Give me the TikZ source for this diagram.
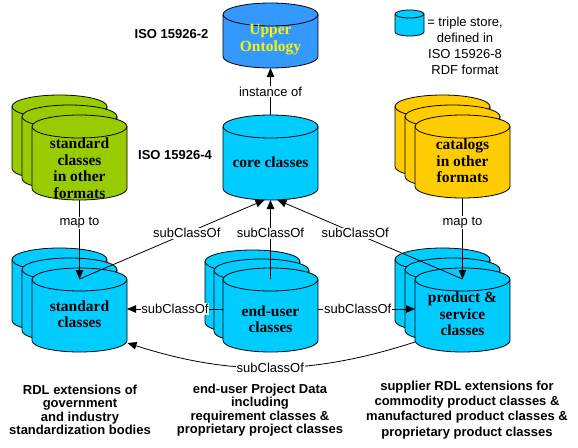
\documentclass[tikz,border=0pt]{standalone}
\usepackage{fontspec}
\setmainfont{Liberation Serif}
\setsansfont{Liberation Sans}
\usetikzlibrary{arrows.meta}

\definecolor{storecyan}{HTML}{00CCFF}
\definecolor{upperblue}{HTML}{3399FF}
\definecolor{fmtgreen}{HTML}{99CC00}
\definecolor{catyellow}{HTML}{FFCC00}

% cylinder: centre x, top y, bottom y, x radius, y radius, fill
\newcommand{\drawdrum}[6]{%
  \draw[drum, fill=#6] (#1-#4,#2+#5) -- (#1-#4,#3-#5)
    arc[start angle=180, end angle=360, x radius=#4pt, y radius=#5pt]
    -- (#1+#4,#2+#5)
    arc[start angle=0, end angle=180, x radius=#4pt, y radius=#5pt] -- cycle;
  \draw[drum] (#1-#4,#2+#5)
    arc[start angle=180, end angle=360, x radius=#4pt, y radius=#5pt];
}

\begin{document}
\begin{tikzpicture}[x=1pt, y=-1pt,
		drum/.style={line width=0.8pt},
		arr/.style={-{Triangle[length=9pt,width=7.5pt]}, line width=0.8pt},
		lbl/.style={fill=white, inner sep=0.8pt, font=\sffamily\fontsize{13}{15}\selectfont},
		isotxt/.style={font=\sffamily\bfseries\fontsize{13}{15}\selectfont},
		cyltxt/.style={align=center, font=\bfseries\fontsize{15.5}{16.5}\selectfont},
		captxt/.style={align=center, font=\sffamily\bfseries\fontsize{13}{13.4}\selectfont}]
	\useasboundingbox (0,0) rectangle (578,447);
	
	% top level
	\drawdrum{270.5}{3}{68}{47.5}{11.5}{upperblue}
	\drawdrum{270.5}{115}{200}{47.5}{11.5}{storecyan}
	\drawdrum{409.5}{10}{36}{14.5}{4}{storecyan}
	
	% stacks in other formats
	\foreach \d in {20,10,0} {
		\drawdrum{79.5-\d}{115-\d}{200-\d}{47.5}{11.5}{fmtgreen}
		\drawdrum{462.5-\d}{115-\d}{198-\d}{47.5}{11.5}{catyellow}
	}
	
	% extension stacks
	\foreach \x/\d in {79.5/10, 270.5/9, 462.5/10} {
		\foreach \k in {2,1,0} {
			\drawdrum{\x-\k*\d}{268-\k*\d}{352-\k*\d}{47.5}{11.5}{storecyan}
		}
	}
	
	\node[cyltxt, text=yellow] (upper) at (270.5,39.5) {Upper\\Ontology};
	\node[cyltxt] (core) at (270.5,162) {core classes};
	\node[cyltxt] (stdfmt) at (79.5,168) {standard\\classes\\in other\\formats};
	\node[cyltxt] (catfmt) at (462.5,161) {catalogs\\in other\\formats};
	\node[cyltxt] (std) at (79.5,314) {standard\\classes};
	\node[cyltxt] (enduser) at (270.5,319) {end-user\\classes};
	\node[cyltxt] (prod) at (462.5,314) {product \&\\service\\classes};
	
	\node[isotxt] (iso2) at (171.5,34) {ISO 15926-2};
	\node[isotxt] (iso4) at (175,155) {ISO 15926-4};
	\node[align=center, font=\sffamily\fontsize{13}{16}\selectfont] (legend) at (465,46)
		{= triple store,\\defined in\\ISO 15926-8\\RDF format};
	
	\node[captxt] (capstd) at (80,410) {RDL extensions of\\government\\and industry\\standardization bodies};
	\node[captxt] (capeu) at (260,410) {end-user Project Data\\including\\requirement classes \&\\proprietary project classes};
	\node[captxt, font=\sffamily\bfseries\fontsize{13}{15.2}\selectfont] (capprod) at (467,410)
		{supplier RDL extensions for\\commodity product classes \&\\manufactured product classes \&\\proprietary product classes};
	
	% connector ends
	\coordinate (upper-bot) at (270.5,68);
	\coordinate (core-top) at (270.5,115);
	\coordinate (core-bot) at (270.5,200);
	\coordinate (stdfmt-bot) at (79.5,200);
	\coordinate (catfmt-bot) at (462.5,198);
	\coordinate (std-in) at (79.5,279);
	\coordinate (eu-in) at (270.5,279);
	\coordinate (prod-in) at (462.5,279);
	\coordinate (std-e) at (127,309);
	\coordinate (eu-w) at (223,309);
	\coordinate (eu-e) at (318,309);
	\coordinate (prod-w) at (415,309);
	\coordinate (std-se) at (127.5,343);
	\coordinate (prod-sw) at (415,342);
	
	\draw[arr] (core-top) -- node[lbl] (inst) {instance of} (upper-bot);
	\draw[arr] (stdfmt-bot) -- node[lbl, pos=0.29] (map1) {map to} (std-in);
	\draw[arr] (catfmt-bot) -- node[lbl, pos=0.3] (map2) {map to} (prod-in);
	
	\draw[arr] (std-in) -- node[lbl, pos=0.58] (sc1) {subClassOf} ([xshift=-6pt]core-bot);
	\draw[arr] (eu-in) -- node[lbl, pos=0.58] (sc2) {subClassOf} (core-bot);
	\draw[arr] (prod-in) -- node[lbl, pos=0.58] (sc3) {subClassOf} ([xshift=7pt]core-bot);
	
	\draw[arr] (eu-w) -- node[lbl] (sc4) {subClassOf} (std-e);
	\draw[arr] (eu-e) -- node[lbl, pos=0.41] (sc5) {subClassOf} (prod-w);
	\draw[arr] (prod-sw) .. controls (310,376) and (230,376) .. node[lbl] (sc6) {subClassOf} (std-se);
	
\end{tikzpicture}
\end{document}
